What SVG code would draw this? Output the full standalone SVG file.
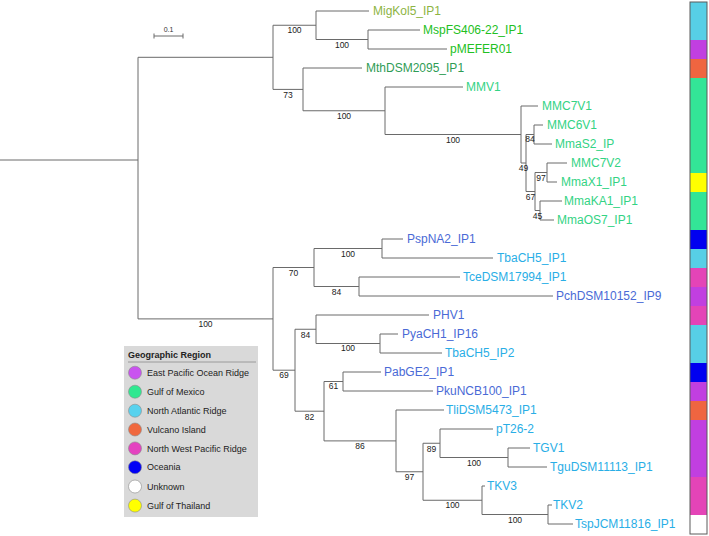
<svg xmlns="http://www.w3.org/2000/svg" width="709" height="536" viewBox="0 0 709 536">
<style>
.br{fill:none;stroke:#6a6a6a;stroke-width:1}
.lf{font-family:"Liberation Sans",Arial,sans-serif;font-size:12px}
.bs{font-family:"Liberation Sans",Arial,sans-serif;font-size:8.5px;fill:#222;text-anchor:middle}
.lg{font-family:"Liberation Sans",Arial,sans-serif;font-size:9px;fill:#222}
.lgc{stroke:#8a8a8a;stroke-width:0.6}
.olive{fill:#8db443}.bgreen{fill:#22c022}.dgreen{fill:#2f9c55}.mint{fill:#33d384}
.blue{fill:#4a6ad6}.cyan{fill:#29aee6}
.sc{fill:#57cfe6}.sp{fill:#c13fe0}.so{fill:#ef6540}.sg{fill:#33e597}.sy{fill:#ffff00}.sb{fill:#0000f0}.sk{fill:#e444b7}.sw{fill:#ffffff}
</style>
<rect width="709" height="536" fill="#ffffff"/>
<g id="connectors">
<path class="br" d="M0 160H138M138 57.3V318.9M138 57.3H273M138 318.9H273
M273 25.25V89.4M273 25.25H316M273 89.4H303
M316 11V39.5M316 11H369M316 39.5H368
M368 30V49M368 30H420M368 49H447
M303 68V110.75M303 68H362M303 110.75H385
M385 87V134.5M385 87H463M385 134.5H521
M521 106V163M521 106H538M521 163H526
M526 134.5V191.5M526 134.5H534M526 191.5H535
M534 125V144M534 125H543M534 144H552
M535 172.5V210.5M535 172.5H547M535 210.5H540
M547 163V182M547 163H567M547 182H557
M540 201V220M540 201H562M540 220H554
M273 267.5V370.2M273 267.5H314M273 370.2H295
M314 248.5V286.5M314 248.5H382M314 286.5H359
M382 239V258M382 239H403M382 258H493
M359 277V296M359 277H460M359 296H553
M295 329.25V411.2M295 329.25H316M295 411.2H324
M316 315V343.5M316 315H429M316 343.5H380
M380 334V353M380 334H398M380 353H442
M324 381.5V440.9M324 381.5H343M324 440.9H396
M343 372V391M343 372H381M343 391H433
M396 410V471.75M396 410H444M396 471.75H423
M423 443.25V500.25M423 443.25H440M423 500.25H482
M440 429V457.5M440 429H493M440 457.5H508
M508 448V467M508 448H530M508 467H547
M482 486V514.5M482 486H485M482 514.5H548
M548 505V524M548 505H552M548 524H573"/>
</g>
<g id="scale-bar">
<path class="br" d="M154 36H183M154 33.5V38.5M183 33.5V38.5" stroke="#888"/>
<text x="168.5" y="32" font-family="Liberation Sans,Arial,sans-serif" font-size="7" fill="#333" text-anchor="middle">0.1</text>
</g>
<g id="bootstrap">
<text class="bs" x="294.5" y="33">100</text>
<text class="bs" x="342" y="47.5">100</text>
<text class="bs" x="288" y="97.5">73</text>
<text class="bs" x="344" y="119">100</text>
<text class="bs" x="453" y="142.5">100</text>
<text class="bs" x="530" y="141.5">84</text>
<text class="bs" x="523.5" y="170.5">49</text>
<text class="bs" x="541" y="180.5">97</text>
<text class="bs" x="530.5" y="199.5">67</text>
<text class="bs" x="537.5" y="218.5">45</text>
<text class="bs" x="205.5" y="327">100</text>
<text class="bs" x="293.5" y="275.5">70</text>
<text class="bs" x="348" y="256.5">100</text>
<text class="bs" x="336.5" y="294.5">84</text>
<text class="bs" x="284" y="377.5">69</text>
<text class="bs" x="305.5" y="337.5">84</text>
<text class="bs" x="348" y="351">100</text>
<text class="bs" x="309.5" y="419.5">82</text>
<text class="bs" x="333.5" y="389">61</text>
<text class="bs" x="360" y="449">86</text>
<text class="bs" x="409.5" y="480">97</text>
<text class="bs" x="431.5" y="451.5">89</text>
<text class="bs" x="474" y="465.5">100</text>
<text class="bs" x="452.5" y="507.5">100</text>
<text class="bs" x="515" y="522.5">100</text>
</g>
<g id="leaf-MigKol5_IP1"><text class="lf olive" x="373" y="15.3">MigKol5_IP1</text></g>
<g id="leaf-MspFS406-22_IP1"><text class="lf bgreen" x="423" y="34.3">MspFS406-22_IP1</text></g>
<g id="leaf-pMEFER01"><text class="lf bgreen" x="450" y="53.3">pMEFER01</text></g>
<g id="leaf-MthDSM2095_IP1"><text class="lf dgreen" x="366" y="72.3">MthDSM2095_IP1</text></g>
<g id="leaf-MMV1"><text class="lf mint" x="466" y="91.3">MMV1</text></g>
<g id="leaf-MMC7V1"><text class="lf mint" x="542" y="110.3">MMC7V1</text></g>
<g id="leaf-MMC6V1"><text class="lf mint" x="547" y="129.3">MMC6V1</text></g>
<g id="leaf-MmaS2_IP"><text class="lf mint" x="555" y="148.3">MmaS2_IP</text></g>
<g id="leaf-MMC7V2"><text class="lf mint" x="571" y="167.3">MMC7V2</text></g>
<g id="leaf-MmaX1_IP1"><text class="lf mint" x="561" y="186.3">MmaX1_IP1</text></g>
<g id="leaf-MmaKA1_IP1"><text class="lf mint" x="564" y="205.3">MmaKA1_IP1</text></g>
<g id="leaf-MmaOS7_IP1"><text class="lf mint" x="557" y="224.3">MmaOS7_IP1</text></g>
<g id="leaf-PspNA2_IP1"><text class="lf blue" x="407" y="243.3">PspNA2_IP1</text></g>
<g id="leaf-TbaCH5_IP1"><text class="lf cyan" x="497" y="262.3">TbaCH5_IP1</text></g>
<g id="leaf-TceDSM17994_IP1"><text class="lf cyan" x="463" y="281.3">TceDSM17994_IP1</text></g>
<g id="leaf-PchDSM10152_IP9"><text class="lf blue" x="556" y="300.3">PchDSM10152_IP9</text></g>
<g id="leaf-PHV1"><text class="lf blue" x="433" y="319.3">PHV1</text></g>
<g id="leaf-PyaCH1_IP16"><text class="lf blue" x="402" y="338.3">PyaCH1_IP16</text></g>
<g id="leaf-TbaCH5_IP2"><text class="lf cyan" x="445" y="357.3">TbaCH5_IP2</text></g>
<g id="leaf-PabGE2_IP1"><text class="lf blue" x="384" y="376.3">PabGE2_IP1</text></g>
<g id="leaf-PkuNCB100_IP1"><text class="lf blue" x="436" y="395.3">PkuNCB100_IP1</text></g>
<g id="leaf-TliDSM5473_IP1"><text class="lf cyan" x="446" y="414.3">TliDSM5473_IP1</text></g>
<g id="leaf-pT26-2"><text class="lf cyan" x="496" y="433.3">pT26-2</text></g>
<g id="leaf-TGV1"><text class="lf cyan" x="533" y="452.3">TGV1</text></g>
<g id="leaf-TguDSM11113_IP1"><text class="lf cyan" x="550" y="471.3">TguDSM11113_IP1</text></g>
<g id="leaf-TKV3"><text class="lf cyan" x="487" y="490.3">TKV3</text></g>
<g id="leaf-TKV2"><text class="lf cyan" x="553" y="509.3">TKV2</text></g>
<g id="leaf-TspJCM11816_IP1"><text class="lf cyan" x="575" y="528.3">TspJCM11816_IP1</text></g>
<g id="region-bar">
<rect class="sc" x="690" y="2" width="17" height="38"/>
<rect class="sp" x="690" y="40" width="17" height="19"/>
<rect class="so" x="690" y="59" width="17" height="19"/>
<rect class="sg" x="690" y="78" width="17" height="95"/>
<rect class="sy" x="690" y="173" width="17" height="19"/>
<rect class="sg" x="690" y="192" width="17" height="38"/>
<rect class="sb" x="690" y="230" width="17" height="19"/>
<rect class="sc" x="690" y="249" width="17" height="19"/>
<rect class="sk" x="690" y="268" width="17" height="19"/>
<rect class="sp" x="690" y="287" width="17" height="19"/>
<rect class="sk" x="690" y="306" width="17" height="19"/>
<rect class="sc" x="690" y="325" width="17" height="38"/>
<rect class="sb" x="690" y="363" width="17" height="19"/>
<rect class="sp" x="690" y="382" width="17" height="19"/>
<rect class="so" x="690" y="401" width="17" height="19"/>
<rect class="sp" x="690" y="420" width="17" height="57"/>
<rect class="sk" x="690" y="477" width="17" height="38"/>
<rect class="sw" x="690" y="515" width="17" height="19"/>
<rect x="690" y="2" width="17" height="532" fill="none" stroke="#5a5a5a" stroke-width="1"/>
</g>
<g id="legend">
<rect x="124" y="346" width="134" height="171" fill="#d9d9d9"/>
<text x="128" y="357.5" font-family="Liberation Sans,Arial,sans-serif" font-size="9" font-weight="bold" fill="#222">Geographic Region</text>
<line x1="128" y1="362" x2="256" y2="362" stroke="#9a9a9a" stroke-width="1"/>
<circle class="lgc" cx="135" cy="372.7" r="6.5" fill="#c953ef"/><text class="lg" x="147" y="375.9">East Pacific Ocean Ridge</text>
<circle class="lgc" cx="135" cy="391.7" r="6.5" fill="#30e890"/><text class="lg" x="147" y="394.9">Gulf of Mexico</text>
<circle class="lgc" cx="135" cy="410.7" r="6.5" fill="#58d2ee"/><text class="lg" x="147" y="413.9">North Atlantic Ridge</text>
<circle class="lgc" cx="135" cy="429.5" r="6.5" fill="#f0683e"/><text class="lg" x="147" y="432.7">Vulcano Island</text>
<circle class="lgc" cx="135" cy="448.4" r="6.5" fill="#e442c0"/><text class="lg" x="147" y="451.6">North West Pacific Ridge</text>
<circle class="lgc" cx="135" cy="467.2" r="6.5" fill="#0000f5"/><text class="lg" x="147" y="470.4">Oceania</text>
<circle class="lgc" cx="135" cy="486.5" r="6.5" fill="#ffffff"/><text class="lg" x="147" y="489.7">Unknown</text>
<circle class="lgc" cx="135" cy="505.6" r="6.5" fill="#ffff00"/><text class="lg" x="147" y="508.8">Gulf of Thailand</text>
</g>
</svg>
